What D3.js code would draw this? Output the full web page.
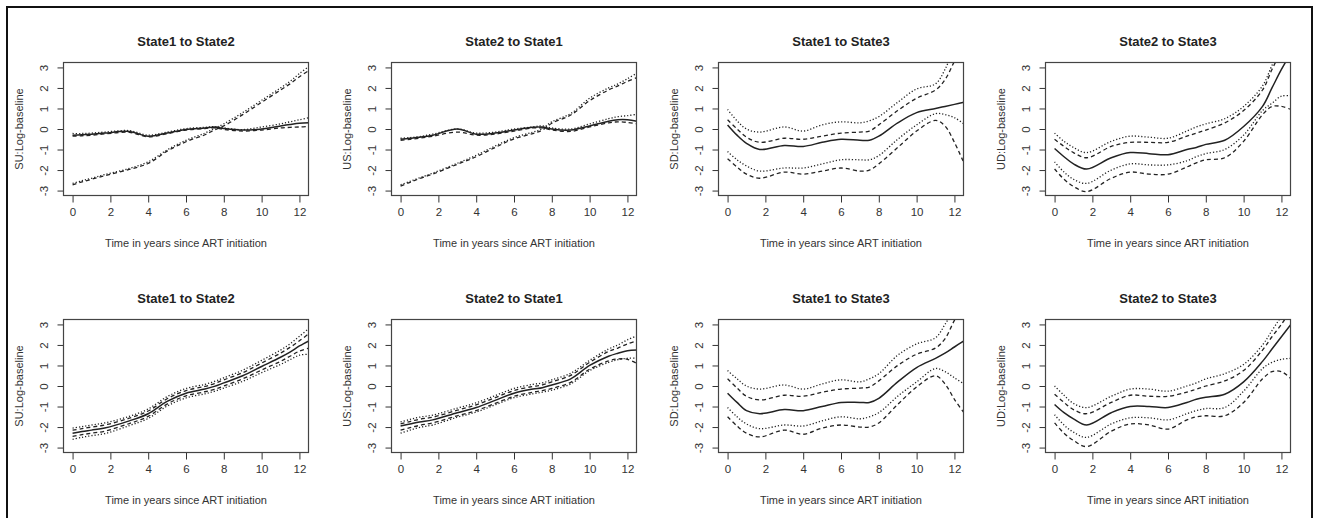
<!DOCTYPE html>
<html>
<head>
<meta charset="utf-8">
<script src="https://cdn.jsdelivr.net/npm/d3@7"></script>
<style>
    body { margin: 0; background: #fff; }
    svg { display: block; font-family: "Liberation Sans", Arial, sans-serif; }
</style>
</head>
<body>
<svg id="chart" width="1319" height="518"></svg>
<script>
// time grid (years since ART initiation) shared by every curve
const years = [0, 0.5, 1, 1.7, 3, 4, 5, 6, 7, 7.5, 8, 9, 10, 11, 11.5, 12, 12.5];
const xTicks = [0, 2, 4, 6, 8, 10, 12];
const yTicks = [-3, -2, -1, 0, 1, 2, 3];

const titles = ["State1 to State2", "State2 to State1", "State1 to State3", "State2 to State3"];
const yLabels = ["SU:Log-baseline", "US:Log-baseline", "SD:Log-baseline", "UD:Log-baseline"];
const xLabel = "Time in years since ART initiation";

// top row
const su1Est   = [-0.3, -0.28, -0.25, -0.2, -0.12, -0.35, -0.2, -0.02, 0.05, 0.1, 0.03, -0.05, 0.0, 0.15, 0.22, 0.28, 0.3];
const su1DashA = [-0.35, -0.33, -0.3, -0.24, -0.16, -0.38, -0.23, -0.05, 0.02, 0.06, -0.02, -0.1, -0.05, 0.05, 0.08, 0.1, 0.12];
const su1DotA  = [-0.22, -0.22, -0.2, -0.15, -0.08, -0.3, -0.15, 0.02, 0.08, 0.12, 0.05, -0.03, 0.1, 0.25, 0.35, 0.45, 0.55];
const su1DashB = [-2.72, -2.58, -2.45, -2.28, -1.97, -1.68, -1.08, -0.62, -0.28, -0.05, 0.15, 0.7, 1.3, 1.9, 2.2, 2.55, 2.85];
const su1DotB  = [-2.65, -2.52, -2.4, -2.22, -1.92, -1.6, -1.02, -0.55, -0.2, 0.03, 0.25, 0.8, 1.4, 2.0, 2.32, 2.7, 3.05];

const us1Est   = [-0.5, -0.45, -0.4, -0.3, 0.0, -0.25, -0.2, -0.05, 0.08, 0.1, 0.0, -0.05, 0.15, 0.38, 0.45, 0.45, 0.38];
const us1DashA = [-0.55, -0.5, -0.45, -0.35, -0.15, -0.3, -0.25, -0.1, 0.05, 0.05, -0.05, -0.12, 0.1, 0.3, 0.35, 0.32, 0.25];
const us1DotA  = [-0.45, -0.42, -0.37, -0.25, 0.0, -0.2, -0.15, 0.0, 0.1, 0.15, 0.05, 0.0, 0.25, 0.5, 0.6, 0.65, 0.72];
const us1DashB = [-2.78, -2.6, -2.42, -2.2, -1.72, -1.35, -0.9, -0.48, -0.22, -0.05, 0.28, 0.68, 1.38, 1.9, 2.1, 2.32, 2.5];
const us1DotB  = [-2.72, -2.55, -2.38, -2.15, -1.67, -1.28, -0.83, -0.42, -0.15, 0.02, 0.35, 0.75, 1.5, 2.0, 2.2, 2.45, 2.72];

const sd1Est   = [0.2, -0.3, -0.7, -1.0, -0.8, -0.85, -0.65, -0.5, -0.55, -0.55, -0.35, 0.3, 0.8, 1.0, 1.1, 1.2, 1.3];
const sd1DashU = [0.45, 0.0, -0.4, -0.65, -0.45, -0.5, -0.35, -0.2, -0.15, -0.1, 0.2, 0.9, 1.5, 1.9, 2.4, 3.3, 4.2];
const sd1DotU  = [0.95, 0.4, 0.0, -0.15, 0.1, -0.1, 0.2, 0.35, 0.3, 0.4, 0.6, 1.3, 1.95, 2.2, 2.9, 4.0, 4.8];
const sd1DotL  = [-1.1, -1.5, -1.8, -2.05, -1.9, -1.9, -1.7, -1.5, -1.5, -1.5, -1.3, -0.5, 0.2, 0.75, 0.7, 0.55, 0.25];
const sd1DashL = [-1.45, -1.85, -2.2, -2.4, -2.1, -2.2, -2.05, -1.9, -2.05, -2.0, -1.7, -0.9, -0.1, 0.42, 0.15, -0.65, -1.65];

const ud1Est   = [-0.95, -1.35, -1.7, -1.95, -1.4, -1.15, -1.2, -1.25, -1.0, -0.9, -0.75, -0.55, 0.12, 1.1, 2.0, 2.9, 3.7];
const ud1DashU = [-0.5, -0.85, -1.15, -1.4, -0.85, -0.65, -0.65, -0.65, -0.35, -0.2, -0.05, 0.3, 0.9, 1.9, 2.9, 3.8, 4.6];
const ud1DotU  = [-0.2, -0.6, -0.9, -1.15, -0.6, -0.35, -0.4, -0.45, -0.1, 0.1, 0.25, 0.5, 1.1, 2.1, 3.1, 4.0, 4.8];
const ud1DotL  = [-1.6, -2.1, -2.45, -2.65, -2.0, -1.7, -1.75, -1.75, -1.55, -1.35, -1.2, -1.0, -0.3, 0.9, 1.25, 1.6, 1.62];
const ud1DashL = [-1.95, -2.45, -2.8, -3.05, -2.4, -2.1, -2.2, -2.2, -1.85, -1.65, -1.5, -1.4, -0.6, 0.7, 1.1, 1.1, 0.95];

// bottom row
const su2Est   = [-2.3, -2.22, -2.15, -2.05, -1.7, -1.35, -0.75, -0.35, -0.15, -0.02, 0.15, 0.5, 0.95, 1.4, 1.65, 1.95, 2.2];
const su2DashU = [-2.15, -2.08, -2.0, -1.9, -1.57, -1.22, -0.62, -0.22, -0.02, 0.12, 0.3, 0.65, 1.12, 1.6, 1.88, 2.2, 2.55];
const su2DotU  = [-2.05, -1.98, -1.9, -1.8, -1.48, -1.12, -0.52, -0.12, 0.08, 0.22, 0.4, 0.77, 1.25, 1.75, 2.05, 2.42, 2.8];
const su2DashL = [-2.45, -2.37, -2.3, -2.2, -1.83, -1.48, -0.88, -0.48, -0.28, -0.16, 0.0, 0.35, 0.78, 1.2, 1.45, 1.7, 1.85];
const su2DotL  = [-2.6, -2.5, -2.42, -2.32, -1.93, -1.58, -0.98, -0.58, -0.38, -0.26, -0.1, 0.23, 0.65, 1.05, 1.28, 1.5, 1.55];

const us2Est   = [-1.95, -1.85, -1.75, -1.65, -1.3, -1.05, -0.7, -0.35, -0.15, -0.08, 0.05, 0.35, 1.0, 1.45, 1.6, 1.72, 1.75];
const us2DashU = [-1.85, -1.73, -1.62, -1.52, -1.18, -0.92, -0.57, -0.22, -0.02, 0.05, 0.2, 0.52, 1.15, 1.68, 1.85, 2.05, 2.2];
const us2DotU  = [-1.75, -1.63, -1.52, -1.42, -1.08, -0.82, -0.47, -0.12, 0.08, 0.15, 0.3, 0.62, 1.25, 1.8, 2.0, 2.25, 2.45];
const us2DashL = [-2.15, -2.03, -1.92, -1.8, -1.45, -1.2, -0.85, -0.5, -0.3, -0.22, -0.12, 0.18, 0.82, 1.22, 1.32, 1.3, 1.1];
const us2DotL  = [-2.3, -2.15, -2.02, -1.9, -1.52, -1.27, -0.92, -0.57, -0.38, -0.3, -0.2, 0.1, 0.75, 1.15, 1.28, 1.35, 1.35];

const sd2Est   = [-0.35, -0.8, -1.2, -1.35, -1.15, -1.2, -1.0, -0.8, -0.8, -0.8, -0.6, 0.2, 0.9, 1.35, 1.6, 1.9, 2.2];
const sd2DashU = [0.35, -0.1, -0.5, -0.68, -0.45, -0.5, -0.3, -0.15, -0.1, -0.05, 0.25, 1.0, 1.55, 1.85, 2.3, 3.2, 4.0];
const sd2DotU  = [0.75, 0.35, 0.0, -0.15, 0.05, -0.15, 0.1, 0.3, 0.2, 0.35, 0.6, 1.5, 2.05, 2.35, 3.0, 3.8, 4.6];
const sd2DotL  = [-1.05, -1.5, -1.85, -2.08, -1.9, -1.95, -1.7, -1.5, -1.6, -1.5, -1.3, -0.5, 0.2, 0.85, 0.7, 0.4, 0.1];
const sd2DashL = [-1.5, -1.95, -2.3, -2.48, -2.15, -2.35, -2.05, -1.9, -2.0, -2.0, -1.8, -0.9, -0.05, 0.5, 0.1, -0.65, -1.3];

const ud2Est   = [-0.9, -1.3, -1.6, -1.9, -1.3, -1.0, -1.0, -1.05, -0.8, -0.65, -0.55, -0.4, 0.2, 1.2, 1.8, 2.4, 3.0];
const ud2DashU = [-0.4, -0.8, -1.15, -1.35, -0.8, -0.45, -0.5, -0.5, -0.3, -0.15, 0.0, 0.25, 0.75, 1.75, 2.4, 3.0, 3.7];
const ud2DotU  = [0.0, -0.45, -0.85, -1.05, -0.5, -0.15, -0.15, -0.25, 0.0, 0.15, 0.35, 0.6, 1.05, 2.0, 2.7, 3.4, 4.1];
const ud2DotL  = [-1.4, -1.9, -2.25, -2.5, -1.85, -1.55, -1.55, -1.65, -1.35, -1.2, -1.1, -1.05, -0.25, 0.85, 1.15, 1.3, 1.35];
const ud2DashL = [-1.8, -2.3, -2.65, -2.95, -2.2, -1.85, -1.9, -2.1, -1.65, -1.5, -1.45, -1.45, -0.8, 0.35, 0.7, 0.7, 0.35];

document.addEventListener('DOMContentLoaded', () => {
    const svg = d3.select("#chart");

    const boxW = 245, boxH = 133;
    const colX = [63.5, 391.5, 718.5, 1045.5];
    const rowY = [62.5, 319.5];
    const ink = "#222";

    const dash = { solid: null, dashed: "4,3", dotted: "1.2,2" };

    const panels = [
        [[su1Est, "solid"], [su1DashA, "dashed"], [su1DotA, "dotted"], [su1DashB, "dashed"], [su1DotB, "dotted"]],
        [[us1Est, "solid"], [us1DashA, "dashed"], [us1DotA, "dotted"], [us1DashB, "dashed"], [us1DotB, "dotted"]],
        [[sd1Est, "solid"], [sd1DashU, "dashed"], [sd1DotU, "dotted"], [sd1DotL, "dotted"], [sd1DashL, "dashed"]],
        [[ud1Est, "solid"], [ud1DashU, "dashed"], [ud1DotU, "dotted"], [ud1DotL, "dotted"], [ud1DashL, "dashed"]],
        [[su2Est, "solid"], [su2DashU, "dashed"], [su2DotU, "dotted"], [su2DashL, "dashed"], [su2DotL, "dotted"]],
        [[us2Est, "solid"], [us2DashU, "dashed"], [us2DotU, "dotted"], [us2DashL, "dashed"], [us2DotL, "dotted"]],
        [[sd2Est, "solid"], [sd2DashU, "dashed"], [sd2DotU, "dotted"], [sd2DotL, "dotted"], [sd2DashL, "dashed"]],
        [[ud2Est, "solid"], [ud2DashU, "dashed"], [ud2DotU, "dotted"], [ud2DotL, "dotted"], [ud2DashL, "dashed"]]
    ];

    // outer frame (bottom edge is off the picture)
    svg.append("rect")
        .attr("x", 7).attr("y", 7)
        .attr("width", 1305).attr("height", 530)
        .attr("fill", "none").attr("stroke", "#111").attr("stroke-width", 2);

    // R style: 4% padding around xlim = c(0,12), ylim = c(-3,3)
    const x = d3.scaleLinear().domain([-0.48, 12.48]).range([0, boxW]);
    const y = d3.scaleLinear().domain([-3.24, 3.24]).range([boxH, 0]);

    const line = d3.line()
        .x((d, i) => x(years[i]))
        .y(d => y(d))
        .curve(d3.curveCatmullRom.alpha(0.5));

    const plain = d => String(d); // R prints "-3" with a hyphen

    panels.forEach((lines, p) => {
        const col = p % 4, row = Math.floor(p / 4);
        const g = svg.append("g").attr("transform", `translate(${colX[col]},${rowY[row]})`);

        g.append("clipPath").attr("id", `clip${p}`)
            .append("rect").attr("width", boxW).attr("height", boxH);

        g.append("g").attr("clip-path", `url(#clip${p})`)
            .selectAll("path")
            .data(lines)
            .enter().append("path")
            .attr("d", d => line(d[0]))
            .attr("fill", "none")
            .attr("stroke", ink)
            .attr("stroke-width", d => d[1] === "solid" ? 1.5 : 1.3)
            .attr("stroke-dasharray", d => dash[d[1]]);

        // x axis
        const xAxis = g.append("g")
            .attr("transform", `translate(0,${boxH})`)
            .call(d3.axisBottom(x).tickValues(xTicks).tickFormat(plain)
                .tickSize(7).tickPadding(5).tickSizeOuter(0));
        xAxis.select(".domain").attr("d", `M${x(0)},0H${x(12)}`).attr("stroke", "#333");
        xAxis.selectAll(".tick line").attr("stroke", "#333");
        xAxis.selectAll("text")
            .attr("font-size", 11.5).attr("fill", "#333")
            .style("font-family", "Liberation Sans, Arial, sans-serif");

        // y axis, labels parallel to the axis
        const yAxis = g.append("g")
            .call(d3.axisLeft(y).tickValues(yTicks).tickFormat(plain)
                .tickSize(6).tickSizeOuter(0));
        yAxis.select(".domain").attr("d", `M0,${y(-3)}V${y(3)}`).attr("stroke", "#333");
        yAxis.selectAll(".tick line").attr("stroke", "#333");
        yAxis.selectAll("text")
            .attr("x", null).attr("dy", null)
            .attr("transform", "translate(-16,0) rotate(-90)")
            .attr("text-anchor", "middle")
            .attr("font-size", 11.5).attr("fill", "#333")
            .style("font-family", "Liberation Sans, Arial, sans-serif");

        g.append("rect")
            .attr("width", boxW).attr("height", boxH)
            .attr("fill", "none").attr("stroke", "#444").attr("stroke-width", 1.2);

        g.append("text")
            .attr("x", boxW / 2).attr("y", -16.5)
            .attr("text-anchor", "middle")
            .attr("font-size", 13).attr("font-weight", "bold").attr("fill", ink)
            .text(titles[col]);

        g.append("text")
            .attr("x", boxW / 2).attr("y", boxH + 51)
            .attr("text-anchor", "middle")
            .attr("font-size", 11).attr("fill", "#333")
            .text(xLabel);

        g.append("text")
            .attr("transform", `translate(-41,${boxH / 2}) rotate(-90)`)
            .attr("text-anchor", "middle")
            .attr("font-size", 11).attr("fill", "#333")
            .text(yLabels[col]);
    });
});
</script>
</body>
</html>
